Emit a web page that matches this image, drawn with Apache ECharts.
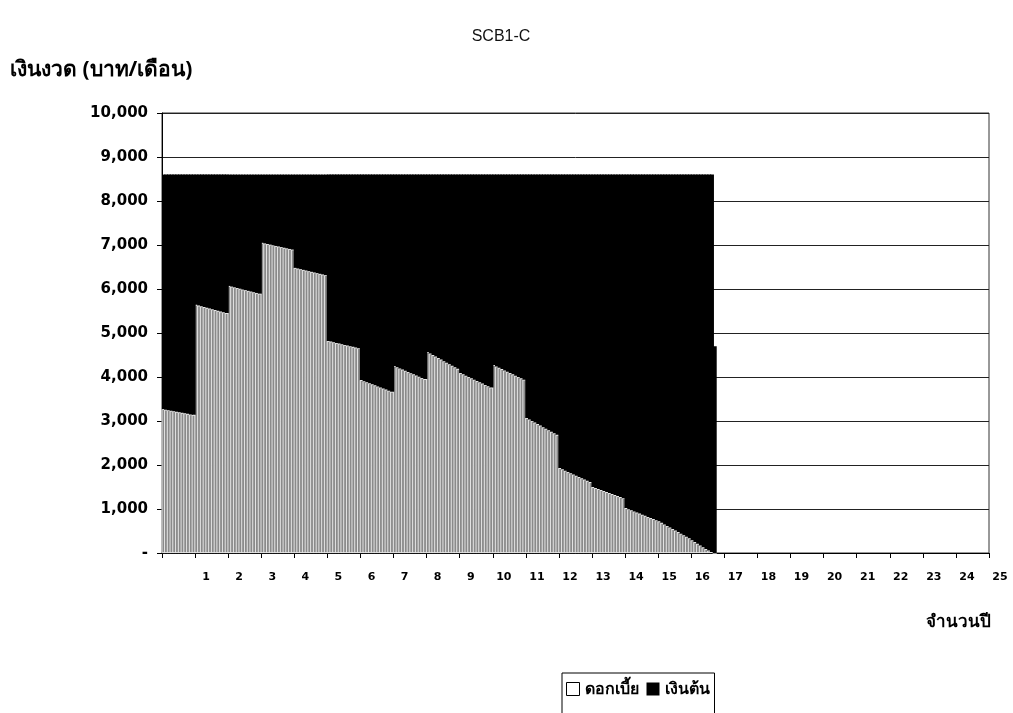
<!DOCTYPE html>
<html>
<head>
<meta charset="utf-8">
<title>SCB1-C</title>
<script src="https://cdn.jsdelivr.net/npm/echarts@6/dist/echarts.min.js"></script>
<style>
  html, body { margin: 0; padding: 0; background: #fff; }
  #chart { width: 1013px; height: 713px; }
</style>
</head>
<body>
<div id="chart"></div>
<script>
// monthly interest (ดอกเบี้ย) per year, baht/month
const interestY1 = [3270, 3258, 3246, 3234, 3222, 3210, 3198, 3186, 3174, 3162, 3150, 3140];
const interestY2 = [5640, 5623, 5606, 5589, 5572, 5555, 5538, 5521, 5504, 5487, 5470, 5453];
const interestY3 = [6070, 6054, 6038, 6022, 6006, 5990, 5974, 5958, 5942, 5926, 5910, 5894];
const interestY4 = [7050, 7036, 7022, 7008, 6994, 6980, 6966, 6952, 6938, 6924, 6910, 6896];
const interestY5 = [6480, 6465, 6450, 6435, 6420, 6405, 6390, 6375, 6360, 6345, 6330, 6315];
const interestY6 = [4820, 4805, 4790, 4775, 4760, 4745, 4730, 4715, 4700, 4685, 4670, 4655];
const interestY7 = [3930, 3906, 3882, 3858, 3834, 3810, 3786, 3762, 3738, 3714, 3690, 3666];
const interestY8 = [4250, 4223, 4196, 4169, 4142, 4115, 4088, 4061, 4034, 4007, 3980, 3953];
const interestY9 = [4570, 4535, 4500, 4465, 4430, 4395, 4360, 4325, 4290, 4255, 4220, 4185];
const interestY10 = [4090, 4060, 4030, 4000, 3970, 3940, 3910, 3880, 3850, 3820, 3790, 3760];
const interestY11 = [4270, 4240, 4210, 4180, 4150, 4120, 4090, 4060, 4030, 4000, 3970, 3940];
const interestY12 = [3070, 3035, 3000, 2965, 2930, 2895, 2860, 2825, 2790, 2755, 2720, 2685];
const interestY13 = [1930, 1901, 1872, 1843, 1814, 1785, 1756, 1727, 1698, 1669, 1640, 1611];
const interestY14 = [1500, 1477, 1454, 1431, 1408, 1385, 1362, 1339, 1316, 1293, 1270, 1247];
const interestY15 = [1020, 995, 970, 945, 920, 895, 870, 845, 820, 795, 770, 745];
const interestY16 = [720, 685, 650, 615, 580, 545, 510, 475, 440, 405, 370, 335];
const interestY17 = [290, 250, 210, 170, 130, 90, 55, 25, 0];

// monthly principal (เงินต้น) per year
const principalY1 = [5330, 5342, 5354, 5366, 5378, 5390, 5402, 5414, 5426, 5438, 5450, 5460];
const principalY2 = [2960, 2977, 2994, 3011, 3028, 3045, 3062, 3079, 3096, 3113, 3130, 3147];
const principalY3 = [2530, 2546, 2562, 2578, 2594, 2610, 2626, 2642, 2658, 2674, 2690, 2706];
const principalY4 = [1550, 1564, 1578, 1592, 1606, 1620, 1634, 1648, 1662, 1676, 1690, 1704];
const principalY5 = [2120, 2135, 2150, 2165, 2180, 2195, 2210, 2225, 2240, 2255, 2270, 2285];
const principalY6 = [3780, 3795, 3810, 3825, 3840, 3855, 3870, 3885, 3900, 3915, 3930, 3945];
const principalY7 = [4670, 4694, 4718, 4742, 4766, 4790, 4814, 4838, 4862, 4886, 4910, 4934];
const principalY8 = [4350, 4377, 4404, 4431, 4458, 4485, 4512, 4539, 4566, 4593, 4620, 4647];
const principalY9 = [4030, 4065, 4100, 4135, 4170, 4205, 4240, 4275, 4310, 4345, 4380, 4415];
const principalY10 = [4510, 4540, 4570, 4600, 4630, 4660, 4690, 4720, 4750, 4780, 4810, 4840];
const principalY11 = [4330, 4360, 4390, 4420, 4450, 4480, 4510, 4540, 4570, 4600, 4630, 4660];
const principalY12 = [5530, 5565, 5600, 5635, 5670, 5705, 5740, 5775, 5810, 5845, 5880, 5915];
const principalY13 = [6670, 6699, 6728, 6757, 6786, 6815, 6844, 6873, 6902, 6931, 6960, 6989];
const principalY14 = [7100, 7123, 7146, 7169, 7192, 7215, 7238, 7261, 7284, 7307, 7330, 7353];
const principalY15 = [7580, 7605, 7630, 7655, 7680, 7705, 7730, 7755, 7780, 7805, 7830, 7855];
const principalY16 = [7880, 7915, 7950, 7985, 8020, 8055, 8090, 8125, 8160, 8195, 8230, 8265];
const principalY17 = [8310, 8350, 8390, 8430, 8470, 8510, 8545, 8575, 4700];

const interest = [].concat(interestY1, interestY2, interestY3, interestY4, interestY5,
  interestY6, interestY7, interestY8, interestY9, interestY10, interestY11, interestY12,
  interestY13, interestY14, interestY15, interestY16, interestY17);
const principal = [].concat(principalY1, principalY2, principalY3, principalY4, principalY5,
  principalY6, principalY7, principalY8, principalY9, principalY10, principalY11, principalY12,
  principalY13, principalY14, principalY15, principalY16, principalY17);

// 25 years x 12 months on the axis
const totalYears = 25;
const months = [];
for (let i = 1; i <= totalYears * 12; i++) months.push(i);

const yTicks = { min: 0, max: 10000, interval: 1000 };

const thaiFont = '"Noto Sans", "DejaVu Sans", sans-serif';
const numFont = '"DejaVu Sans", sans-serif';

const chart = echarts.init(document.getElementById('chart'));
chart.setOption({
  animation: false,
  backgroundColor: '#fff',
  title: {
    text: 'SCB1-C',
    left: 496,
    top: 24,
    textAlign: 'center',
    textStyle: { fontFamily: 'Liberation Sans, Arial', fontSize: 16, fontWeight: 'normal', color: '#111' }
  },
  legend: {
    data: [
      { name: 'ดอกเบี้ย', icon: 'rect', itemStyle: { color: '#fff', borderColor: '#000', borderWidth: 1 } },
      { name: 'เงินต้น', icon: 'rect', itemStyle: { color: '#000' } }
    ],
    left: 562,
    top: 673,
    itemGap: 8,
    itemWidth: 13,
    itemHeight: 13,
    padding: [8, 5, 40, 4],
    borderColor: '#000',
    borderWidth: 1,
    selectedMode: false,
    textStyle: { fontFamily: thaiFont, fontSize: 16, fontWeight: 'bold', color: '#000' }
  },
  grid: {
    left: 162,
    right: 24,
    top: 113,
    bottom: 160,
    show: true,
    borderColor: '#333',
    borderWidth: 1
  },
  xAxis: [
    {
      type: 'category',
      data: months,
      show: false,
      boundaryGap: true
    },
    {
      type: 'value',
      position: 'bottom',
      min: 0,
      max: totalYears,
      interval: 1,
      axisLine: { show: true, onZero: false, lineStyle: { color: '#000', width: 1 } },
      axisTick: { show: true, length: 5, lineStyle: { color: '#000' } },
      splitLine: { show: false },
      axisLabel: {
        margin: 19,
        showMaxLabel: true,
        color: '#000',
        fontFamily: numFont,
        fontSize: 11,
        fontWeight: 'bold',
        padding: [0, 0, 0, 22],
        formatter: v => (v === 0 ? '' : String(v))
      }
    }
  ],
  yAxis: {
    type: 'value',
    min: yTicks.min,
    max: yTicks.max,
    interval: yTicks.interval,
    axisLine: { show: true, lineStyle: { color: '#000' } },
    axisTick: { show: true, length: 5, lineStyle: { color: '#000' } },
    splitLine: { show: true, lineStyle: { color: '#222', width: 1 } },
    axisLabel: {
      margin: 14,
      color: '#000',
      fontFamily: numFont,
      fontSize: 15,
      fontWeight: 'bold',
      formatter: v => (v === 0 ? '-' : v.toLocaleString('en-US'))
    }
  },
  graphic: [
    {
      type: 'text',
      left: 10,
      top: 60,
      style: { text: 'เงินงวด (บาท/เดือน)', font: 'bold 21px ' + thaiFont, fill: '#000' }
    },
    {
      type: 'text',
      left: 926,
      top: 614,
      style: { text: 'จำนวนปี', font: 'bold 17px ' + thaiFont, fill: '#000' }
    }
  ],
  series: [
    {
      name: 'ดอกเบี้ย',
      type: 'bar',
      stack: 'pay',
      xAxisIndex: 0,
      barWidth: 4,
      data: interest,
      itemStyle: { color: '#8a8a8a', borderColor: '#f4f4f4', borderWidth: 0.8 }
    },
    {
      name: 'เงินต้น',
      type: 'bar',
      stack: 'pay',
      xAxisIndex: 0,
      barWidth: 4,
      data: principal,
      itemStyle: { color: '#000' }
    }
  ]
});
</script>
</body>
</html>
